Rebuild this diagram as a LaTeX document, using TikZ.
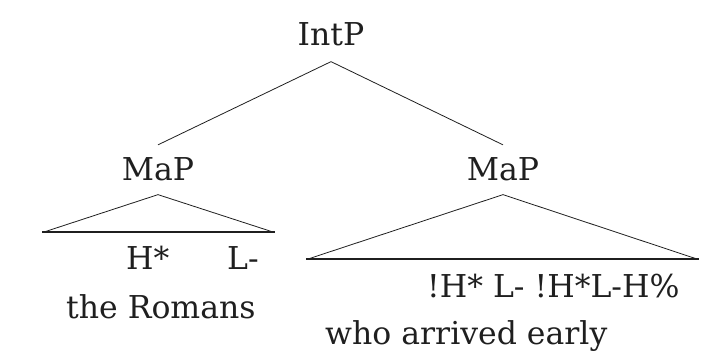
\documentclass[tikz,border=0pt]{standalone}
\usepackage{fontspec}
\setmainfont{DejaVu Serif}
\begin{document}
\begin{tikzpicture}[x=1pt,y=-1pt,
  lbl/.style={font=\fontsize{31.5}{36}\selectfont, inner sep=0pt, text=black!88},
  cat/.style={lbl, inner xsep=0pt, inner ysep=13pt, anchor=base},
  edge/.style={line width=0.8pt, black!88},
  baseline/.style={line width=1.8pt, black!88}]
\useasboundingbox (0,0) rectangle (720,355);
% categories
\node[cat, inner ysep=15pt] (intp) at (331,46) {IntP};
\node[cat] (mapl) at (158,181) {MaP};
\node[cat] (mapr) at (503,181) {MaP};
\draw[edge] (intp.south) -- (mapl.north);
\draw[edge] (intp.south) -- (mapr.north);
% left triangle
\coordinate (lbl) at (42,232);
\coordinate (lbr) at (275,232);
\draw[edge] (44,232) -- (mapl.south) -- (273,232);
\draw[baseline] (lbl) -- (lbr);
% right triangle
\coordinate (rbl) at (306,259);
\coordinate (rbr) at (699,259);
\draw[edge] (308,259) -- (mapr.south) -- (697,259);
\draw[baseline] (rbl) -- (rbr);
% tones and words
\node[lbl, anchor=base west] (h1) at (126,270) {H*};
\node[lbl, anchor=base west] (l1) at (227,270) {L-};
\node[lbl, anchor=base west] (w1) at (66,318) {the Romans};
\node[lbl, anchor=base west] (t2) at (427,298) {!H* L- !H*L-H\%};
\node[lbl, anchor=base west] (w2) at (325,344) {who arrived early};
\end{tikzpicture}
\end{document}
